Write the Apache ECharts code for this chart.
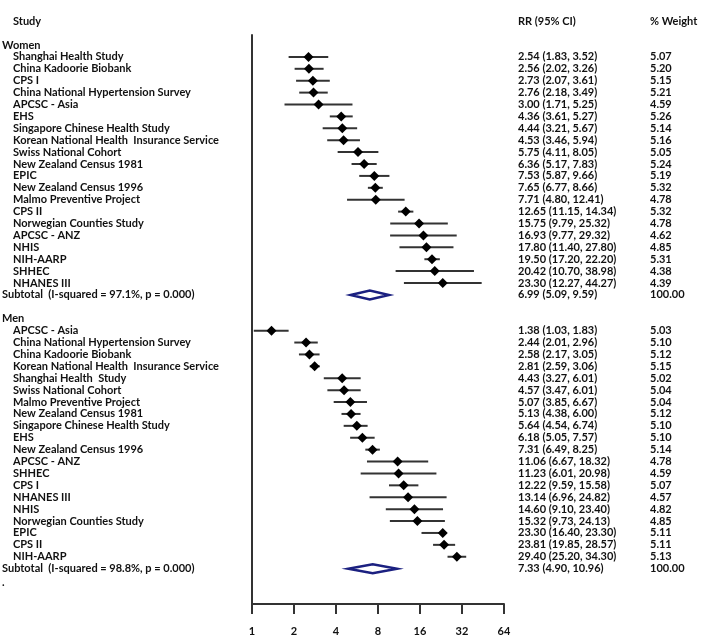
<!DOCTYPE html>
<html><head><meta charset="utf-8">
<script src="https://cdn.jsdelivr.net/npm/echarts@6/dist/echarts.min.js"></script>
<style>html,body{margin:0;padding:0;background:#fff}#c{width:708px;height:643px}</style>
</head><body><div id="c"></div>
<script>
const womenStudies = ["Shanghai Health Study","China Kadoorie Biobank","CPS I","China National Hypertension Survey","APCSC - Asia","EHS","Singapore Chinese Health Study","Korean National Health  Insurance Service","Swiss National Cohort","New Zealand Census 1981","EPIC","New Zealand Census 1996","Malmo Preventive Project","CPS II","Norwegian Counties Study","APCSC - ANZ","NHIS","NIH-AARP","SHHEC","NHANES III"];
const womenRR = [2.54,2.56,2.73,2.76,3.00,4.36,4.44,4.53,5.75,6.36,7.53,7.65,7.71,12.65,15.75,16.93,17.80,19.50,20.42,23.30];
const womenLo = [1.83,2.02,2.07,2.18,1.71,3.61,3.21,3.46,4.11,5.17,5.87,6.77,4.80,11.15,9.79,9.77,11.40,17.20,10.70,12.27];
const womenHi = [3.52,3.26,3.61,3.49,5.25,5.27,5.67,5.94,8.05,7.83,9.66,8.66,12.41,14.34,25.32,29.32,27.80,22.20,38.98,44.27];
const womenWeight = ["5.07","5.20","5.15","5.21","4.59","5.26","5.14","5.16","5.05","5.24","5.19","5.32","4.78","5.32","4.78","4.62","4.85","5.31","4.38","4.39"];
const womenSubtotal = {label:"Subtotal  (I-squared = 97.1%, p = 0.000)", rr:6.99, lo:5.09, hi:9.59, w:"100.00"};

const menStudies = ["APCSC - Asia","China National Hypertension Survey","China Kadoorie Biobank","Korean National Health  Insurance Service","Shanghai Health  Study","Swiss National Cohort","Malmo Preventive Project","New Zealand Census 1981","Singapore Chinese Health Study","EHS","New Zealand Census 1996","APCSC - ANZ","SHHEC","CPS I","NHANES III","NHIS","Norwegian Counties Study","EPIC","CPS II","NIH-AARP"];
const menRR = [1.38,2.44,2.58,2.81,4.43,4.57,5.07,5.13,5.64,6.18,7.31,11.06,11.23,12.22,13.14,14.60,15.32,23.30,23.81,29.40];
const menLo = [1.03,2.01,2.17,2.59,3.27,3.47,3.85,4.38,4.54,5.05,6.49,6.67,6.01,9.59,6.96,9.10,9.73,16.40,19.85,25.20];
const menHi = [1.83,2.96,3.05,3.06,6.01,6.01,6.67,6.00,6.74,7.57,8.25,18.32,20.98,15.58,24.82,23.40,24.13,23.30,28.57,34.30];
const menWeight = ["5.03","5.10","5.12","5.15","5.02","5.04","5.04","5.12","5.10","5.10","5.14","4.78","4.59","5.07","4.57","4.82","4.85","5.11","5.11","5.13"];
const menSubtotal = {label:"Subtotal  (I-squared = 98.8%, p = 0.000)", rr:7.33, lo:4.90, hi:10.96, w:"100.00"};

const xTicks = [1,2,4,8,16,32,64];

function fmt(v){return v.toFixed(2);}
function ciText(rr,lo,hi){return fmt(rr)+" ("+fmt(lo)+", "+fmt(hi)+")";}

const rows = [];
rows.push({idx:-1.95, kind:'head'});
function addGroup(name, start, studies, rr, lo, hi, w, sub){
  rows.push({idx:start, kind:'group', label:name});
  for(let i=0;i<studies.length;i++){
    rows.push({idx:start+1+i, kind:'study', label:studies[i], rr:rr[i], lo:lo[i], hi:hi[i], w:w[i]});
  }
  rows.push({idx:start+1+studies.length, kind:'sub', label:sub.label, rr:sub.rr, lo:sub.lo, hi:sub.hi, w:sub.w});
}
addGroup("Women", 0, womenStudies, womenRR, womenLo, womenHi, womenWeight, womenSubtotal);
addGroup("Men", 23, menStudies, menRR, menLo, menHi, menWeight, menSubtotal);
rows.push({idx:45.2, kind:'dot', label:"."});

const FONT = "bold 11px Lato";
const TXT = "#111";
const NAVY = "#1b2080";

function txt(s, x, y, font){
  return {type:'text', silent:true, style:{text:s, x:x, y:y, fill:TXT, font:font||FONT, verticalAlign:'middle', align:'left'}};
}

const chart = echarts.init(document.getElementById('c'), null, {renderer:'canvas'});
chart.setOption({
  animation:false,
  backgroundColor:'#fff',
  grid:{left:252, right:204, top:35, bottom:39},
  xAxis:{type:'log', logBase:2, min:1, max:64, interval:1, position:'bottom',
    axisLine:{show:true, onZero:false, lineStyle:{color:'#333', width:2}},
    axisTick:{show:true, inside:false, length:10, lineStyle:{color:'#333', width:2}},
    axisLabel:{color:'#111', fontFamily:'Lato', fontWeight:'bold', fontSize:11, margin:22,
      formatter:function(v){return xTicks.indexOf(Math.round(v))>=0 ? String(Math.round(v)) : '';}},
    splitLine:{show:false}},
  yAxis:{type:'value', inverse:true, min:-0.84, max:46.97, position:'left',
    axisLine:{show:true, onZero:false, lineStyle:{color:'#333', width:2}},
    axisTick:{show:false}, axisLabel:{show:false}, splitLine:{show:false}},
  series:[{
    type:'custom', clip:false, silent:true,
    data: rows.map(r => [r.rr || 1, r.idx, r.lo || 1, r.hi || 1]),
    encode:{x:0, y:1},
    renderItem:function(params, api){
      const r = rows[params.dataIndex];
      const y = api.coord([1, r.idx])[1];
      const ch = [];
      if(r.kind==='head'){
        ch.push(txt("Study", 13, y));
        ch.push(txt("RR (95% CI)", 518, y));
        ch.push(txt("% Weight", 650, y));
      } else if(r.kind==='group'){
        ch.push(txt(r.label, 2, y));
      } else if(r.kind==='dot'){
        ch.push(txt(r.label, 2, y));
      } else if(r.kind==='study'){
        const pl = api.coord([r.lo, r.idx]), ph = api.coord([r.hi, r.idx]), pc = api.coord([r.rr, r.idx]);
        ch.push({type:'line', shape:{x1:pl[0], y1:y, x2:ph[0], y2:y}, style:{stroke:'#333', lineWidth:2}});
        const h = 5;
        ch.push({type:'polygon', shape:{points:[[pc[0]-h,y],[pc[0],y-h],[pc[0]+h,y],[pc[0],y+h]]}, style:{fill:'#000'}});
        ch.push(txt(r.label, 13, y));
        ch.push(txt(ciText(r.rr,r.lo,r.hi), 518, y));
        ch.push(txt(r.w, 650, y));
      } else if(r.kind==='sub'){
        const pl = api.coord([r.lo, r.idx]), ph = api.coord([r.hi, r.idx]), pc = api.coord([r.rr, r.idx]);
        const h = 4.5;
        ch.push({type:'polygon', shape:{points:[[pl[0],y],[pc[0],y-h],[ph[0],y],[pc[0],y+h]]}, style:{fill:'#fff', stroke:NAVY, lineWidth:2.5}});
        ch.push(txt(r.label, 2, y));
        ch.push(txt(ciText(r.rr,r.lo,r.hi), 518, y));
        ch.push(txt(r.w, 650, y));
      }
      return {type:'group', children:ch};
    }
  }]
});
</script>
</body></html>
